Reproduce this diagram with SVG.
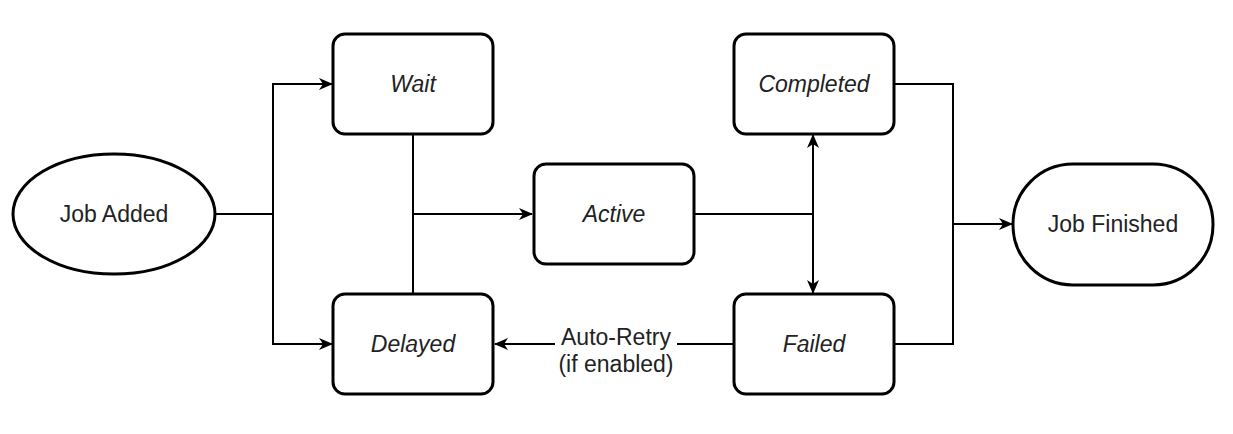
<svg xmlns="http://www.w3.org/2000/svg" width="1233" height="434" viewBox="0 0 1233 434">
<style>
.node{fill:#fff;stroke:#000;stroke-width:3}
.t{font-family:"Liberation Sans",Arial,sans-serif;font-size:23px;fill:#222;text-anchor:middle}
.i{font-style:italic}
.c{fill:none;stroke:#000;stroke-width:2}
</style>
<defs>
<marker id="a" viewBox="0 0 14 12" refX="13" refY="6" markerWidth="14" markerHeight="12" markerUnits="userSpaceOnUse" orient="auto-start-reverse">
<path d="M0,0 L14,6 L0,12 L4,6 Z" fill="#000"/>
</marker>
</defs>
<rect width="1233" height="434" fill="#fff"/>
<g id="connectors">
<path class="c" d="M215,214 H273"/>
<path class="c" d="M273,214 V84 H332" marker-end="url(#a)"/>
<path class="c" d="M273,214 V344 H332" marker-end="url(#a)"/>
<path class="c" d="M413,134 V294"/>
<path class="c" d="M413,214 H532" marker-end="url(#a)"/>
<path class="c" d="M694,214 H813"/>
<path class="c" d="M813,135 V293" marker-start="url(#a)" marker-end="url(#a)"/>
<path class="c" d="M894,84 H953 V344 H894"/>
<path class="c" d="M953,224 H1012" marker-end="url(#a)"/>
<path class="c" d="M733,344 H495" marker-end="url(#a)"/>
<rect x="555" y="323" width="122" height="56" fill="#fff"/>
<text class="t" x="616" y="345">Auto-Retry</text>
<text class="t" x="616" y="372">(if enabled)</text>
</g>
<g id="job-added">
<ellipse class="node" cx="114" cy="214" rx="101" ry="60"/>
<text class="t" x="114" y="222">Job Added</text>
</g>
<g id="wait">
<rect class="node" x="333" y="34" width="160" height="100" rx="12"/>
<text class="t i" x="413" y="92">Wait</text>
</g>
<g id="active">
<rect class="node" x="534" y="164" width="160" height="100" rx="12"/>
<text class="t i" x="614" y="222">Active</text>
</g>
<g id="completed">
<rect class="node" x="734" y="34" width="160" height="100" rx="12"/>
<text class="t i" x="814" y="92">Completed</text>
</g>
<g id="delayed">
<rect class="node" x="333" y="294" width="160" height="100" rx="12"/>
<text class="t i" x="413" y="352">Delayed</text>
</g>
<g id="failed">
<rect class="node" x="734" y="294" width="160" height="100" rx="12"/>
<text class="t i" x="814" y="352">Failed</text>
</g>
<g id="job-finished">
<rect class="node" x="1013" y="164" width="200" height="121" rx="60" ry="60"/>
<text class="t" x="1113" y="232">Job Finished</text>
</g>
</svg>
